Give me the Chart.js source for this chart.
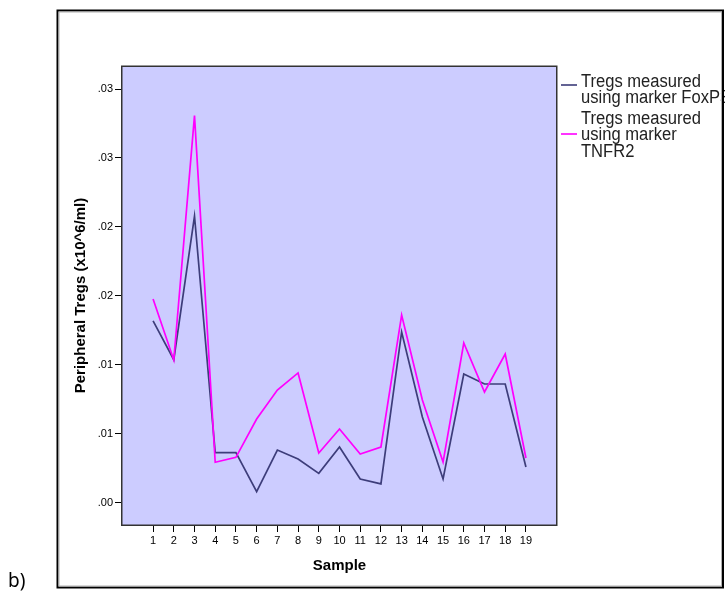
<!DOCTYPE html>
<html>
<head>
<meta charset="utf-8">
<script src="https://cdn.jsdelivr.net/npm/chart.js@4.4.1/dist/chart.umd.min.js"></script>
<style>
  html, body { margin: 0; padding: 0; background: #ffffff; }
  #wrap { position: relative; width: 725px; height: 593px; }
</style>
</head>
<body>
<div id="wrap"><canvas id="c" width="725" height="593"></canvas></div>
<script>
// Sample numbers along the x axis
const samples = [1, 2, 3, 4, 5, 6, 7, 8, 9, 10, 11, 12, 13, 14, 15, 16, 17, 18, 19];

// Peripheral Tregs (x10^6/ml) per sample
const foxp3 = [0.01318, 0.01037, 0.02079, 0.00363, 0.00363, 0.00080, 0.00382, 0.00317, 0.00213, 0.00404,
               0.00172, 0.00136, 0.01238, 0.00622, 0.00172, 0.00933, 0.00861, 0.00861, 0.00259];
const tnfr2 = [0.01477, 0.01035, 0.02807, 0.00293, 0.00329, 0.00607, 0.00817, 0.00941, 0.00360, 0.00534,
               0.00353, 0.00404, 0.01361, 0.00745, 0.00295, 0.01158, 0.00803, 0.01078, 0.00324];

// y axis ticks and their (two-decimal) labels
const yTickValues = [0, 0.005, 0.01, 0.015, 0.02, 0.025, 0.03];
const yTickLabels = ['.00', '.01', '.01', '.02', '.02', '.03', '.03'];

// Series names as shown in the legend (wrapped)
const seriesNames = [
  ['Tregs measured', 'using marker FoxP3'],
  ['Tregs measured', 'using marker', 'TNFR2']
];
const seriesColors = ['#3d3d7a', '#ff00ff'];

const FONT = '"Liberation Sans", Arial, sans-serif';

const framePlugin = {
  id: 'frame',
  beforeDraw(chart) {
    const { ctx, chartArea: a } = chart;
    ctx.save();
    ctx.fillStyle = '#ffffff';
    ctx.fillRect(0, 0, chart.width, chart.height);
    ctx.fillStyle = '#ccccff';
    ctx.fillRect(a.left, a.top, a.right - a.left, a.bottom - a.top);
    ctx.restore();
  },
  afterDraw(chart) {
    const { ctx, chartArea: a } = chart;
    ctx.save();
    // plot box outline
    ctx.strokeStyle = '#333333';
    ctx.lineWidth = 1.5;
    ctx.strokeRect(a.left - 0.25, a.top + 0.25, a.right - a.left, a.bottom - a.top);

    // legend: swatch line + wrapped name
    const baselines = [[86.5, 102.5], [124, 140, 156.5]];
    const markerY = [85, 134];
    seriesNames.forEach((lines, i) => {
      ctx.strokeStyle = seriesColors[i];
      ctx.lineWidth = 1.6;
      ctx.beginPath();
      ctx.moveTo(561, markerY[i]);
      ctx.lineTo(577, markerY[i]);
      ctx.stroke();
      lines.forEach((t, j) => {
        ctx.save();
        ctx.translate(581, baselines[i][j]);
        ctx.scale(0.92, 1);
        ctx.font = '18px ' + FONT;
        ctx.fillStyle = '#222222';
        ctx.textBaseline = 'alphabetic';
        ctx.textAlign = 'left';
        ctx.fillText(t, 0, 0);
        ctx.restore();
      });
    });

    // outer frame
    ctx.strokeStyle = '#000000';
    ctx.lineWidth = 2;
    ctx.strokeRect(57.5, 10.5, 665.5, 577);
    ctx.strokeStyle = '#b0b0b0';
    ctx.lineWidth = 1;
    ctx.strokeRect(59, 12, 662.5, 574);

    // panel letter
    ctx.fillStyle = '#000000';
    ctx.font = '19px "Noto Sans", sans-serif';
    ctx.textAlign = 'left';
    ctx.textBaseline = 'alphabetic';
    ctx.fillText('b)', 8, 587);
    ctx.restore();
  }
};

new Chart(document.getElementById('c'), {
  type: 'line',
  data: {
    datasets: [
      {
        label: seriesNames[0].join(' '),
        data: samples.map((s, i) => ({ x: s, y: foxp3[i] })),
        borderColor: seriesColors[0],
        borderWidth: 1.7,
        pointRadius: 0,
        tension: 0,
        order: 1
      },
      {
        label: seriesNames[1].join(' '),
        data: samples.map((s, i) => ({ x: s, y: tnfr2[i] })),
        borderColor: seriesColors[1],
        borderWidth: 1.7,
        pointRadius: 0,
        tension: 0,
        order: 0
      }
    ]
  },
  options: {
    responsive: false,
    animation: false,
    devicePixelRatio: 1,
    layout: { padding: { top: 66, right: 168, bottom: 0, left: 0 } },
    plugins: { legend: { display: false }, tooltip: { enabled: false } },
    scales: {
      x: {
        type: 'linear',
        min: -0.5,
        max: 20.5,
        afterBuildTicks: s => { s.ticks = samples.map(v => ({ value: v })); },
        afterFit: s => { s.height = 68; },
        ticks: {
          autoSkip: false, maxRotation: 0, padding: 2, color: '#000000',
          font: { family: FONT, size: 11 },
          callback: v => String(v)
        },
        grid: { drawOnChartArea: false, drawTicks: true, tickLength: 7, color: '#000000' },
        border: { display: false },
        title: {
          display: true, text: 'Sample', color: '#000000',
          font: { family: FONT, size: 15, weight: 'bold' },
          padding: { top: 0, bottom: 18.5 }
        }
      },
      y: {
        type: 'linear',
        min: -0.001617,
        max: 0.03167,
        afterBuildTicks: s => { s.ticks = yTickValues.map(v => ({ value: v })); },
        afterFit: s => { s.width = 122; },
        ticks: {
          padding: 2, color: '#000000',
          font: { family: FONT, size: 11 },
          callback: (v, i) => yTickLabels[i]
        },
        grid: { drawOnChartArea: false, drawTicks: true, tickLength: 7, color: '#000000' },
        border: { display: false },
        title: {
          display: true, text: 'Peripheral Tregs (x10^6/ml)', color: '#000000',
          font: { family: FONT, size: 15, weight: 'bold' },
          padding: { top: 72, bottom: 0 }
        }
      }
    }
  },
  plugins: [framePlugin]
});
</script>
</body>
</html>
